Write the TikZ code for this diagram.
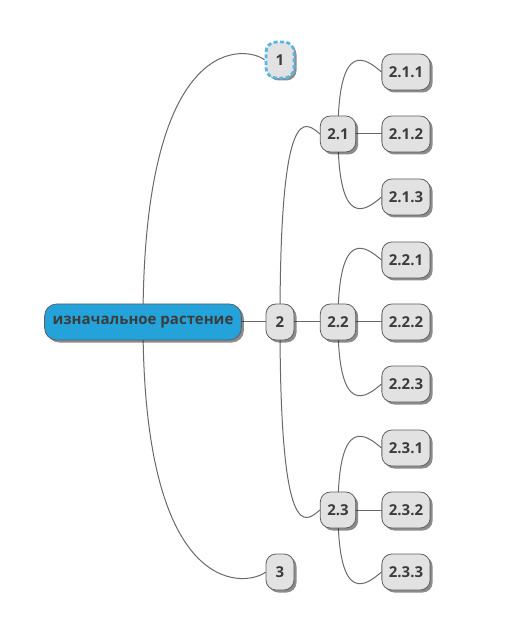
\documentclass[tikz,border=0pt]{standalone}
\usepackage{fontspec}
\setmainfont{Open Sans}
\usepackage{tikz}
\usetikzlibrary{positioning, calc, shadows, backgrounds}
\definecolor{mmtext}{RGB}{60,60,60}
\definecolor{mmline}{RGB}{105,105,105}
\definecolor{mmframe}{RGB}{95,95,95}
\definecolor{mmfill}{RGB}{226,226,226}
\definecolor{mmblue}{RGB}{35,163,218}
\definecolor{mmdash}{RGB}{85,183,230}
\tikzset{
  mmnode/.style={rectangle, draw=mmframe, fill=mmfill, text=mmtext,
    font=\fontsize{15pt}{18pt}\selectfont\bfseries, rounded corners=10pt,
    inner xsep=7pt, minimum width=28pt, minimum height=36pt, line width=0.8pt,
    drop shadow={shadow xshift=2.5pt, shadow yshift=-2.5pt, fill=black, opacity=0.45}},
  rootnode/.style={mmnode, fill=mmblue, inner xsep=8pt, rounded corners=12pt},
  selnode/.style={mmnode, draw=mmdash, line width=2.8pt, dash pattern=on 4pt off 2.5pt},
  conn/.style={line width=1pt, color=mmline},
  upcurve/.style={to path={.. controls ($(\tikztostart |- \tikztotarget)+(0,35pt)$)
    and ($(\tikztotarget)+(-15pt,13pt)$) .. (\tikztotarget)}},
  downcurve/.style={to path={.. controls ($(\tikztostart |- \tikztotarget)+(0,-35pt)$)
    and ($(\tikztotarget)+(-15pt,-13pt)$) .. (\tikztotarget)}}
}
\begin{document}
\begin{tikzpicture}[on grid]
  \useasboundingbox (-143pt,-320pt) rectangle (373pt,322pt);

  \node[rootnode] (root) {изначальное растение};
  \node[mmnode, right=137pt of root] (n2) {2};
  \node[selnode, above=262pt of n2]  (n1) {1};
  \node[mmnode, below=250pt of n2]   (n3) {3};

  \node[mmnode, right=58pt of n2]   (n22) {2.2};
  \node[mmnode, above=188pt of n22] (n21) {2.1};
  \node[mmnode, below=188pt of n22] (n23) {2.3};

  \node[mmnode, right=68pt of n21]   (n212) {2.1.2};
  \node[mmnode, above=62pt of n212]  (n211) {2.1.1};
  \node[mmnode, below=63pt of n212]  (n213) {2.1.3};
  \node[mmnode, right=68pt of n22]   (n222) {2.2.2};
  \node[mmnode, above=62pt of n222]  (n221) {2.2.1};
  \node[mmnode, below=62pt of n222]  (n223) {2.2.3};
  \node[mmnode, right=68pt of n23]   (n232) {2.3.2};
  \node[mmnode, above=62pt of n232]  (n231) {2.3.1};
  \node[mmnode, below=62pt of n232]  (n233) {2.3.3};

  % connectors behind the nodes
  \begin{scope}[on background layer]
    \draw[conn] (root.center) -- (n2.center);
    \draw[conn] (root.center) to[upcurve] (n1.west);
    \draw[conn] (root.center) to[downcurve] (n3.west);

    \draw[conn] (n2.center) -- (n22.center);
    \draw[conn] (n2.center) to[upcurve] (n21.west);
    \draw[conn] (n2.center) to[downcurve] (n23.west);

    \draw[conn] (n21.center) -- (n212.center);
    \draw[conn] (n21.center) to[upcurve] (n211.west);
    \draw[conn] (n21.center) to[downcurve] (n213.west);
    \draw[conn] (n22.center) -- (n222.center);
    \draw[conn] (n22.center) to[upcurve] (n221.west);
    \draw[conn] (n22.center) to[downcurve] (n223.west);
    \draw[conn] (n23.center) -- (n232.center);
    \draw[conn] (n23.center) to[upcurve] (n231.west);
    \draw[conn] (n23.center) to[downcurve] (n233.west);
  \end{scope}
\end{tikzpicture}
\end{document}
